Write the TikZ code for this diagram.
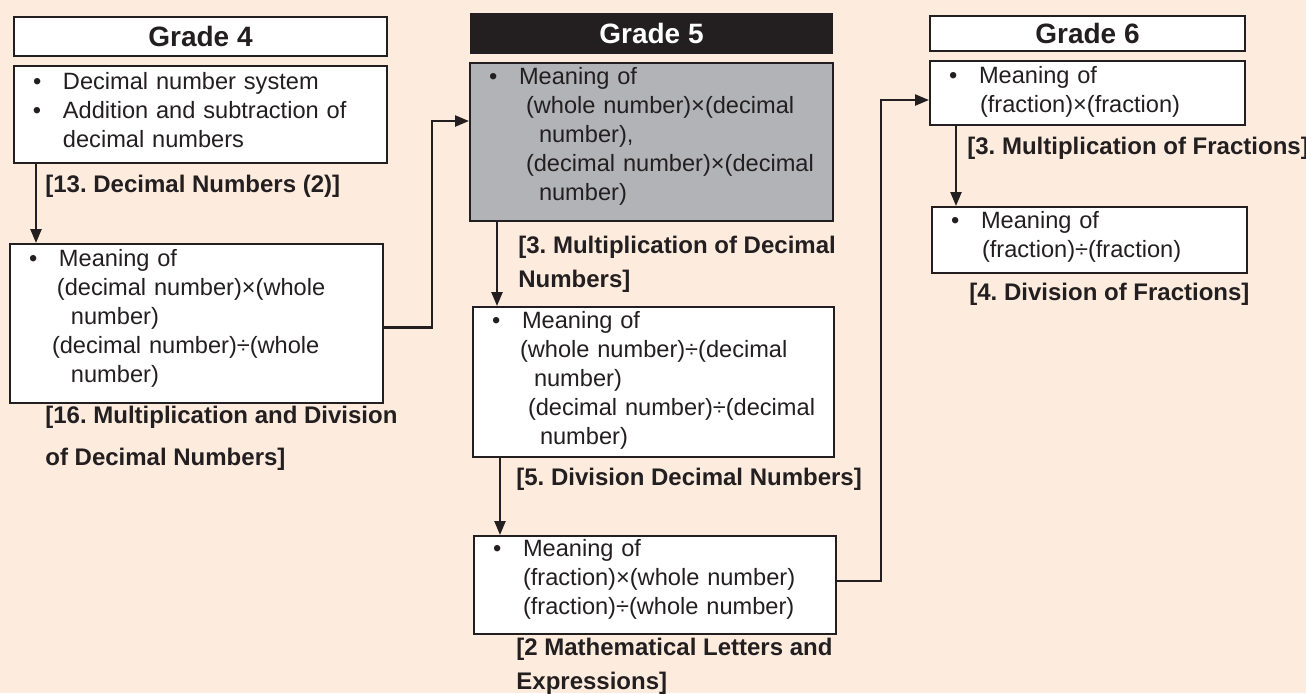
\documentclass[tikz,border=0pt]{standalone}
\usepackage{fontspec}
\setmainfont{Liberation Sans}
\usetikzlibrary{arrows.meta}
\definecolor{peach}{RGB}{253,236,222}
\definecolor{ink}{RGB}{35,31,32}
\definecolor{shade}{RGB}{177,179,182}
\setlength{\unitlength}{0.5pt}
\frenchspacing
\newcommand{\itm}{\makebox[49\unitlength][l]{\hspace*{19\unitlength}\textbullet}}
\newcommand{\ind}[1]{\hspace*{#1\unitlength}}
\newcommand{\sink}[1]{\rule[-#1\unitlength]{0pt}{0pt}}
\tikzset{px/.style={x=0.5pt,y=0.5pt}}
\tikzset{gradehd/.style={draw=ink,line width=1pt,fill=white,text=ink,anchor=north west,
           inner sep=0pt,font=\fontsize{14}{16}\selectfont\bfseries},
         topic/.style={draw=ink,line width=1pt,fill=white,text=ink,anchor=north west,
           inner sep=0pt,align=left,font=\fontsize{11.8}{14.5}\selectfont},
         unit/.style={text=ink,anchor=base west,inner sep=0pt,align=left,
           font=\fontsize{12}{17}\selectfont\bfseries},
         conn/.style={draw=ink,line width=1.2pt,-{Triangle[length=7pt,width=5.5pt]}}}

\begin{document}
\begin{tikzpicture}[px]
    \fill[peach] (0,0) rectangle (1306,-693);
    \useasboundingbox (0,0) rectangle (1306,-693);
    % grade headers
    \node[gradehd,minimum width=186.5pt,minimum height=19.5pt] (g4) at (13,-16) {Grade 4};
    \node[gradehd,fill=ink,text=white,minimum width=180.5pt,minimum height=19.5pt] (g5) at (470,-13) {Grade 5};
    \node[gradehd,minimum width=157.5pt,minimum height=17.5pt] (g6) at (929,-15) {Grade 6};
    % grade 4
    \node[topic,text width=186.5pt,minimum height=48.5pt] (g4a) at (13,-65)
      {\itm Decimal number system\\
       \itm Addition and subtraction of\\
       \ind{49}decimal numbers\sink{10}};
    \node[topic,text width=186.5pt,minimum height=79.5pt] (g4b) at (9,-243)
      {\itm Meaning of\\
       \ind{47}(decimal number)×(whole\\
       \ind{61}number)\\
       \ind{42}(decimal number)÷(whole\\
       \ind{61}number)\sink{16}};
    % grade 5
    \node[topic,fill=shade,text width=181.5pt,minimum height=79pt] (g5a) at (469,-62)
      {\itm Meaning of\\
       \ind{56}(whole number)×(decimal\\
       \ind{69}number),\\
       \ind{56}(decimal number)×(decimal\\
       \ind{69}number)\sink{16}};
    \node[topic,text width=180.5pt,minimum height=75pt] (g5b) at (472,-306)
      {\itm Meaning of\\
       \ind{47}(whole number)÷(decimal\\
       \ind{61}number)\\
       \ind{55}(decimal number)÷(decimal\\
       \ind{67}number)\sink{8}};
    \node[topic,text width=181pt,minimum height=49pt] (g5c) at (473,-535)
      {\itm Meaning of\\
       \ind{49}(fraction)×(whole number)\\
       \ind{49}(fraction)÷(whole number)\sink{17}};
    % grade 6
    \node[topic,text width=157.5pt,minimum height=32pt] (g6a) at (929,-60)
      {\itm Meaning of\\
       \ind{50}(fraction)×(fraction)\sink{7}};
    \node[topic,text width=157.5pt,minimum height=33pt] (g6b) at (931,-206)
      {\itm Meaning of\\
       \ind{50}(fraction)÷(fraction)\sink{11}};
    % unit names (base = last line)
    \node[unit] (u13) at (45,-192) {[13. Decimal Numbers (2)]};
    \node[unit,font=\fontsize{12}{21}\selectfont\bfseries] (u16) at (45,-465)
      {[16. Multiplication and Division\\of Decimal Numbers]};
    \node[unit] (u3d) at (518,-287) {[3. Multiplication of Decimal\\Numbers]};
    \node[unit] (u5) at (516,-485) {[5. Division Decimal Numbers]};
    \node[unit] (u2) at (516,-689) {[2 Mathematical Letters and\\Expressions]};
    \node[unit] (u3f) at (967,-154) {[3. Multiplication of Fractions]};
    \node[unit] (u4) at (969,-300) {[4. Division of Fractions]};
    % connectors
    \draw[conn] ([xshift=11.5pt]g4a.south west) -- ([xshift=11.5pt]g4a.south west |- g4b.north);
    \draw[conn] ([yshift=-2pt]g4b.east) -- ++(48,0) |- ([yshift=10.5pt]g5a.west);
    \draw[conn] ([xshift=14pt]g5a.south west) -- ([xshift=14pt]g5a.south west |- g5b.north);
    \draw[conn] ([xshift=14pt]g5b.south west) -- ([xshift=14pt]g5b.south west |- g5c.north);
    \draw[conn] ([yshift=2pt]g5c.east) -- ++(44,0) |- ([yshift=-3.5pt]g6a.west);
    \draw[conn] ([xshift=13.5pt]g6a.south west) -- ([xshift=13.5pt]g6a.south west |- g6b.north);
\end{tikzpicture}
\end{document}
